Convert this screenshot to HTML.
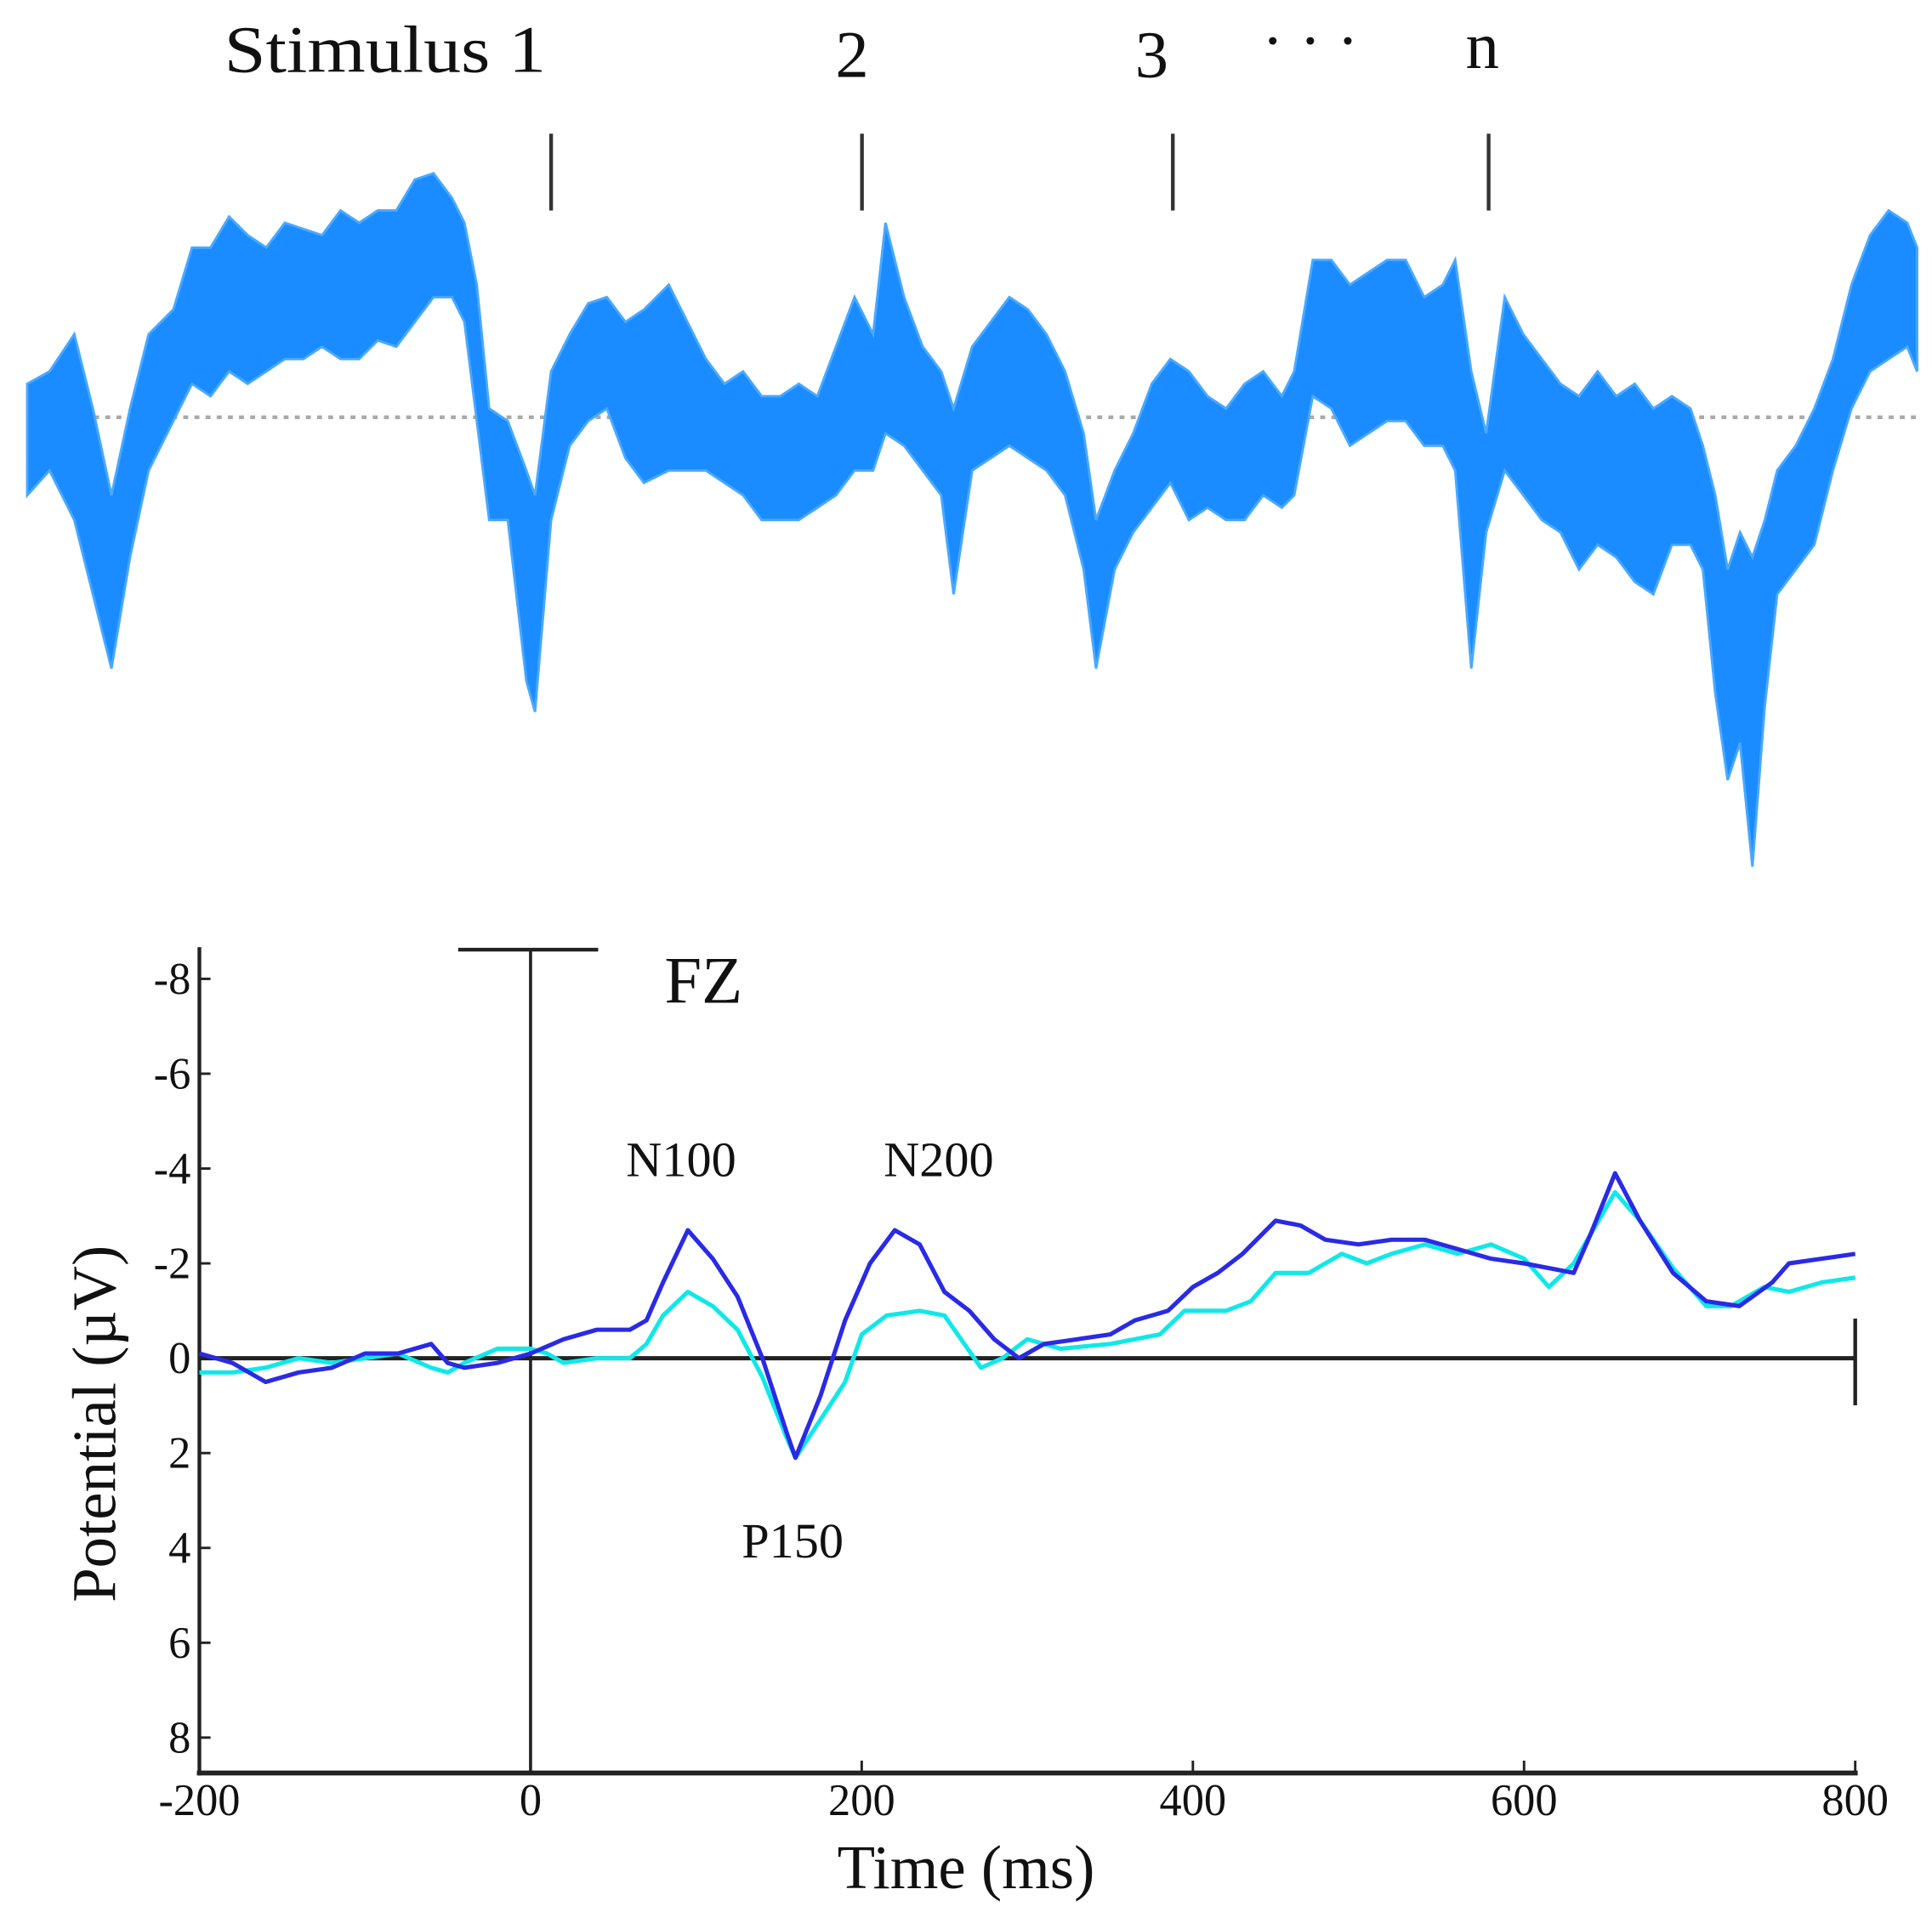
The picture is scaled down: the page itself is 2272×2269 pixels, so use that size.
<!DOCTYPE html>
<html><head><meta charset="utf-8"><style>
html,body{margin:0;padding:0;background:#fff;}
svg{display:block;}
text{font-family:"Liberation Serif",serif;fill:#111;}
</style></head><body>
<svg id="fig" width="2272" height="2269" viewBox="0 0 1560 1558" preserveAspectRatio="none" xmlns="http://www.w3.org/2000/svg">
<g id="topPanel">
  <text x="181" y="58" font-size="54" textLength="260" lengthAdjust="spacingAndGlyphs">Stimulus 1</text>
  <text x="688" y="62" font-size="54" text-anchor="middle">2</text>
  <text x="930" y="62" font-size="54" text-anchor="middle">3</text>
  <text x="1058" y="50" font-size="52" text-anchor="middle">· · ·</text>
  <text x="1197" y="55" font-size="54" text-anchor="middle">n</text>
  <line x1="22" y1="337" x2="1548" y2="337" stroke="#aaa" stroke-width="3" stroke-dasharray="4,5"/>
</g>
<g id="bottomPanel"></g>
</svg>
<script>
// ---- raw EEG envelope (display coords) ----
const eegX = [22,40,60,75,90,105,120,140,155,170,185,200,215,230,245,260,275,290,305,320,335,350,365,375,385,395,410,425,432,445,460,475,490,505,520,540,555,570,585,600,615,630,645,660,675,690,705,715,730,745,760,770,785,800,815,830,845,860,875,885,900,915,930,945,960,975,990,1005,1020,1035,1045,1060,1075,1090,1105,1120,1135,1150,1165,1175,1188,1200,1215,1230,1245,1260,1275,1290,1305,1320,1335,1350,1365,1375,1385,1395,1405,1415,1425,1435,1450,1465,1480,1495,1510,1525,1540,1548];
const eegTop = [310,300,270,330,400,330,270,250,200,200,175,190,200,180,185,190,170,180,170,170,145,140,160,180,230,330,340,380,400,300,270,245,240,260,250,230,260,290,310,300,320,320,310,320,280,240,270,180,240,280,300,330,280,260,240,250,270,300,350,420,380,350,310,290,300,320,330,310,300,320,300,210,210,230,220,210,210,240,230,210,300,350,240,270,290,310,320,300,320,310,330,320,330,360,400,460,430,450,420,380,360,330,290,230,190,170,180,200];
const eegBot = [400,380,420,480,540,450,380,340,310,320,300,310,300,290,290,280,290,290,275,280,260,240,240,260,340,420,420,550,575,420,360,340,330,370,390,380,380,380,390,400,420,420,420,410,400,380,380,350,360,380,400,480,380,370,360,370,380,400,460,540,460,430,410,390,420,410,420,420,400,410,400,320,330,360,350,340,340,360,360,380,540,430,380,400,420,430,460,440,450,470,480,440,440,460,560,630,600,700,570,480,460,440,380,330,300,290,280,300];
const stimX = [445,696,947,1202];

// ---- ERP data ----
const blueT = [-200,-180,-160,-140,-120,-100,-80,-60,-50,-40,-20,0,20,40,60,70,80,95,110,125,140,155,160,175,190,205,220,235,250,265,280,295,310,330,350,365,385,400,415,430,450,465,480,500,520,540,560,580,600,615,630,640,655,670,690,710,730,750,760,780,800];
const blueV = [-0.1,0.1,0.5,0.3,0.2,-0.1,-0.1,-0.3,0.1,0.2,0.1,-0.1,-0.4,-0.6,-0.6,-0.8,-1.6,-2.7,-2.1,-1.3,0,1.6,2.1,0.8,-0.8,-2.0,-2.7,-2.4,-1.4,-1.0,-0.4,0,-0.3,-0.4,-0.5,-0.8,-1.0,-1.5,-1.8,-2.2,-2.9,-2.8,-2.5,-2.4,-2.5,-2.5,-2.3,-2.1,-2.0,-1.9,-1.8,-2.6,-3.9,-2.9,-1.8,-1.2,-1.1,-1.6,-2.0,-2.1,-2.2];
const cyanT = [-200,-180,-160,-140,-120,-100,-80,-60,-50,-40,-20,0,10,20,40,60,70,80,95,110,125,140,155,160,175,190,200,215,235,250,260,272,285,300,320,350,380,395,420,435,450,470,490,505,520,540,560,580,600,615,630,655,670,690,710,725,745,760,780,800];
const cyanV = [0.3,0.3,0.2,0,0.1,0,-0.1,0.2,0.3,0.1,-0.2,-0.2,-0.1,0.1,0,0,-0.3,-0.9,-1.4,-1.1,-0.6,0.4,1.7,2.1,1.3,0.5,-0.5,-0.9,-1.0,-0.9,-0.4,0.2,0,-0.4,-0.2,-0.3,-0.5,-1.0,-1.0,-1.2,-1.8,-1.8,-2.2,-2.0,-2.2,-2.4,-2.2,-2.4,-2.1,-1.5,-2.0,-3.5,-2.9,-1.9,-1.1,-1.1,-1.5,-1.4,-1.6,-1.7];
const xTicks = [-200,0,200,400,600,800];
const yTicks = [-8,-6,-4,-2,0,2,4,6,8];

const NS="http://www.w3.org/2000/svg";
function mk(tag, attrs, parent){const e=document.createElementNS(NS,tag);for(const k in attrs)e.setAttribute(k,attrs[k]);parent.appendChild(e);return e;}
const topG=document.getElementById('topPanel'), botG=document.getElementById('bottomPanel');

// EEG band
const pts=[];
for(let i=0;i<eegX.length;i++)pts.push(eegX[i]+','+eegTop[i]);
for(let i=eegX.length-1;i>=0;i--)pts.push(eegX[i]+','+eegBot[i]);
const band=mk('polygon',{points:pts.join(' '),fill:'#1a8cff',stroke:'#4aa8ff','stroke-width':2},topG);


stimX.forEach(x=>{
  const l=mk('line',{x1:x,y1:108,x2:x,y2:170,stroke:'#333','stroke-width':3},topG);
  
  
});

// ERP axes
const X=t=>161+(t+200)*(1337/1000);
const Y=v=>1097+v*38.3;
function axLine(a,name){
  const l=mk('line',a,botG);
  
  
}
axLine({x1:161,y1:765,x2:161,y2:1434,stroke:'#222','stroke-width':3},'y-axis');
axLine({x1:159,y1:1432,x2:1500,y2:1432,stroke:'#222','stroke-width':4},'x-axis');
axLine({x1:X(0),y1:767,x2:X(0),y2:1432,stroke:'#222','stroke-width':2.5},'stimulus-onset-line');
axLine({x1:370,y1:767,x2:483,y2:767,stroke:'#222','stroke-width':3},'onset-bar');
axLine({x1:161,y1:Y(0),x2:X(800),y2:Y(0),stroke:'#222','stroke-width':3.5},'zero-line');
axLine({x1:X(800),y1:1065,x2:X(800),y2:1135,stroke:'#222','stroke-width':3},'zero-line-end-tick');
xTicks.forEach(t=>{
  const tk=mk('line',{x1:X(t),y1:1432,x2:X(t),y2:1422,stroke:'#222','stroke-width':2},botG);
  
  
  const tx=mk('text',{x:X(t),y:1466,'font-size':36,'text-anchor':'middle'},botG);
  tx.textContent=String(t);
  
  
});
yTicks.forEach(v=>{
  const tk=mk('line',{x1:161,y1:Y(v),x2:170,y2:Y(v),stroke:'#222','stroke-width':2},botG);
  
  
  const tx=mk('text',{x:154,y:Y(v)+12,'font-size':36,'text-anchor':'end'},botG);
  tx.textContent=String(v);
  
  
});
function series(T,V,color,name){
  const d=T.map((t,i)=>(i?'L':'M')+X(t).toFixed(1)+','+Y(V[i]).toFixed(1)).join(' ');
  const p=mk('path',{d:d,fill:'none',stroke:color,'stroke-width':3.5,'stroke-linejoin':'round'},botG);
  
  
}
series(cyanT,cyanV,'#10e8e8','cyan-erp-line');
series(blueT,blueV,'#2a2ae6','blue-erp-line');
function label(txt,x,y,size,name,rot){
  const a={x:x,y:y,'font-size':size,'text-anchor':'middle'};
  if(rot)a.transform=rot;
  const t=mk('text',a,botG);t.textContent=txt;
  
  
}
label('FZ',568,810,54,'channel-label');
label('N100',550,950,40,'n100-label');
label('N200',758,950,40,'n200-label');
label('P150',640,1258,40,'p150-label');
label('Time (ms)',780,1525,50,'x-axis-title');
label('Potential (µV)',93,1150,50,'y-axis-title','rotate(-90 93 1150)');
</script>
</body></html>
